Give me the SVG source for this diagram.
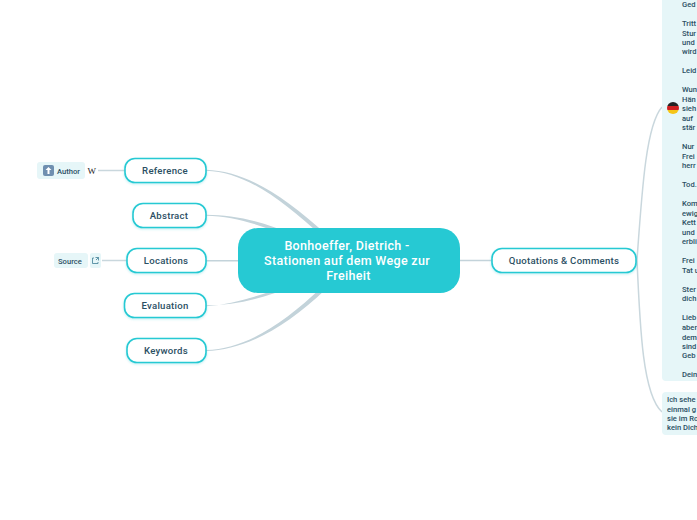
<svg xmlns="http://www.w3.org/2000/svg" width="697" height="520" viewBox="0 0 697 520">
<style>
.c{fill:#c3d3da;stroke:none}
.l{fill:none;stroke:#c9d7dd;stroke-width:1.5}
.n{fill:#fff;stroke:#26c9d3;stroke-width:1.6}
.t{font-family:"Roboto","Liberation Sans",sans-serif;font-weight:500;font-size:9.6px;fill:#2b4f63;text-anchor:middle;letter-spacing:.25px}
.s{font-family:"Roboto","Liberation Sans",sans-serif;font-weight:500;font-size:7.6px;fill:#2b4f63}
.b{fill:#e6f6f8}
.ctr{font-family:"Roboto","Liberation Sans",sans-serif;font-weight:500;font-size:12.5px;fill:#fff;text-anchor:middle;letter-spacing:.32px}
</style>
<defs><filter id="sh" x="-10%" y="-20%" width="120%" height="150%"><feDropShadow dx="0" dy="1" stdDeviation="1" flood-color="#26c9d3" flood-opacity=".3"/></filter></defs>
<g id="connectors">
<path class="c" d="M206 169.700C245 171 282 194 328 236L324 238C280 198 245 172 206 170.700Z"/>
<path class="c" d="M206 214.700C235 215 262 221 296 236L292 238C260 225 235 216 206 215.700Z"/>
<path class="c" d="M206 260H250V261.500H206Z"/>
<path class="c" d="M206 305.300C235 305 262 299 296 285L292 283C260 296 235 304 206 306.300Z" transform="translate(0 0)"/>
<path class="c" d="M206 350C245 349 282 325 322 287L326 289C285 328 245 350 206 351Z"/>
<path class="c" d="M455 259.800H491.500V261.200H455Z"/>
<path class="l" d="M637 260C642 190 646 125 662 107"/>
<path class="l" d="M637 260C640 330 643 395 662 412"/>
<path class="l" d="M98 170.500H125"/>
<path class="l" d="M102 260.500H127"/>
</g>
<g id="center"><rect x="238" y="228" width="222" height="65" rx="20" fill="#26c9d3"/>
<text class="ctr" x="347" y="250">Bonhoeffer, Dietrich -</text>
<text class="ctr" x="347" y="265">Stationen auf dem Wege zur</text>
<text class="ctr" x="348.500" y="280">Freiheit</text></g>
<g id="reference"><rect class="n" x="125" y="158.500" width="81" height="24" rx="10" filter="url(#sh)"/><text class="t" x="165" y="174">Reference</text></g>
<g id="abstract"><rect class="n" x="133" y="203.500" width="73" height="24" rx="10" filter="url(#sh)"/><text class="t" x="169" y="219">Abstract</text></g>
<g id="locations"><rect class="n" x="127" y="248.500" width="79" height="24" rx="10" filter="url(#sh)"/><text class="t" x="166" y="264">Locations</text></g>
<g id="evaluation"><rect class="n" x="124.500" y="293.500" width="81.500" height="24" rx="10" filter="url(#sh)"/><text class="t" x="165" y="309">Evaluation</text></g>
<g id="keywords"><rect class="n" x="127" y="338.500" width="79" height="24" rx="10" filter="url(#sh)"/><text class="t" x="166" y="354">Keywords</text></g>
<g id="quotations"><rect class="n" x="492" y="248.500" width="144" height="24" rx="10" filter="url(#sh)"/><text class="t" x="564" y="264">Quotations &amp; Comments</text></g>
<g id="author"><rect class="b" x="37" y="162" width="48" height="17" rx="3"/>
<rect x="43" y="165" width="11" height="11" rx="2" fill="#6f8fb0"/><path d="M48.500 167l3 3h-2v4h-2v-4h-2z" fill="#fff"/>
<text class="s" x="57" y="174">Author</text>
<text x="87.500" y="174" font-family="Liberation Serif,serif" font-size="9" fill="#222">W</text></g>
<g id="source"><rect class="b" x="54" y="253" width="34" height="15" rx="3"/><text class="s" x="58" y="263.500">Source</text>
<rect class="b" x="90" y="253" width="11" height="15" rx="2"/>
<path d="M94 258h-1.500v5.500h5.500V262M95.500 257.500h3v3M98.500 257.500l-2.500 2.500" fill="none" stroke="#3f7f95" stroke-width=".8"/></g>
<g id="quotes-de"><rect class="b" x="662" y="-10" width="45" height="391" rx="4"/>
<g class="s">
<text x="682" y="7">Ged</text>
<text x="682" y="26">Tritt</text><text x="682" y="35.500">Stur</text><text x="682" y="45">und</text><text x="682" y="54">wird</text>
<text x="682" y="73">Leid</text>
<text x="682" y="92">Wun</text><text x="682" y="102">Hän</text><text x="682" y="111">sieh</text><text x="682" y="121">auf</text><text x="682" y="130">stär</text>
<text x="682" y="149">Nur</text><text x="682" y="159">Frei</text><text x="682" y="168">herr</text>
<text x="682" y="187">Tod.</text>
<text x="682" y="206">Kom</text><text x="682" y="216">ewig</text><text x="682" y="225">Kett</text><text x="682" y="234.500">und</text><text x="682" y="244">erbli</text>
<text x="682" y="263">Frei</text><text x="682" y="273">Tat u</text>
<text x="682" y="292">Ster</text><text x="682" y="301">dich</text>
<text x="682" y="320">Lieb</text><text x="682" y="330">aber</text><text x="682" y="339.500">dem</text><text x="682" y="349">sind</text><text x="682" y="358">Geb</text>
<text x="682" y="377">Dein</text>
</g>
<clipPath id="fc"><circle cx="673" cy="108" r="6"/></clipPath>
<g clip-path="url(#fc)"><rect x="667" y="102" width="12" height="4" fill="#222"/><rect x="667" y="106" width="12" height="4" fill="#d01f1f"/><rect x="667" y="110" width="12" height="4" fill="#f5c518"/></g></g>
<g id="quote-2"><rect class="b" x="662" y="392" width="45" height="43" rx="4"/>
<g class="s"><text x="667" y="402">Ich sehe</text><text x="667" y="411.500">einmal g</text><text x="667" y="421">sie im Ro</text><text x="667" y="430">kein Dich</text></g></g>
</svg>
